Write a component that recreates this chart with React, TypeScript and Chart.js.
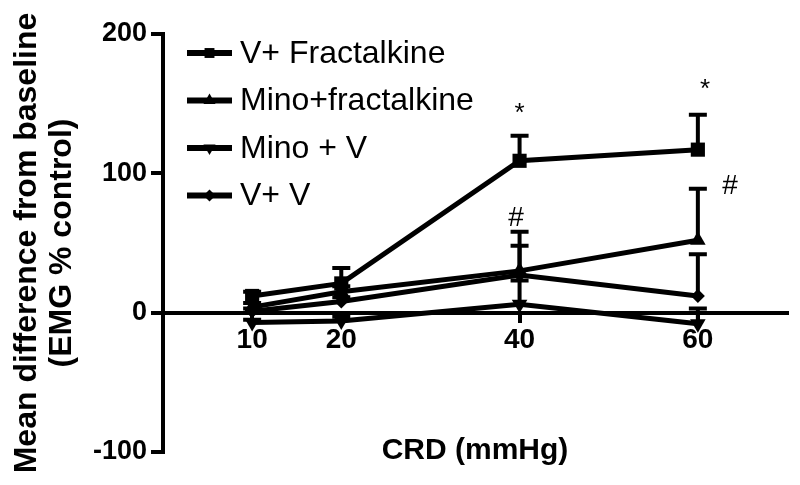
import React, { useEffect, useRef } from 'react';
import { Chart, registerables } from 'chart.js';

Chart.register(...registerables);

// ---- data ----
const pressures = [10, 20, 40, 60];
const xTickValues = [10, 20, 40, 60];
const yTickValues = [-100, 0, 100, 200];
const seriesLabels = ['V+ Fractalkine', 'Mino+fractalkine', 'Mino + V', 'V+ V'];

const vFractalkine = [12, 21, 109, 117];
const vFractalkineErr = [3, 11, 18, 25];
const minoFractalkine = [4, 15, 30, 52];
const minoFractalkineErr = [3, 4, 28, 37];
const minoV = [-7, -6, 6, -8];
const minoVErr = [2, 3, 17, 11];
const vV = [1, 8, 27, 12];
const vVErr = [2, 3, 21, 30];

const annotationX = [40, 60.8, 39.6, 63.6];
const annotationY = [143, 160, 68, 91];
const annotationText = ['*', '*', '#', '#'];

const FONT = "'Liberation Sans', Arial, Helvetica, sans-serif";

type Marker = { style: string; radius: number; rotation: number; legendRadius: number };
const markers: Marker[] = [
  { style: 'rect', radius: 10, rotation: 0, legendRadius: 7 },
  { style: 'triangle', radius: 9, rotation: 0, legendRadius: 7 },
  { style: 'triangle', radius: 9, rotation: 180, legendRadius: 7 },
  { style: 'rectRot', radius: 7, rotation: 0, legendRadius: 6 },
];

function drawMarker(ctx: CanvasRenderingContext2D, m: Marker, x: number, y: number, r: number) {
  ctx.beginPath();
  if (m.style === 'rect') {
    const s = Math.SQRT1_2 * r;
    ctx.rect(x - s, y - s, 2 * s, 2 * s);
  } else if (m.style === 'rectRot') {
    ctx.moveTo(x, y - r);
    ctx.lineTo(x + r, y);
    ctx.lineTo(x, y + r);
    ctx.lineTo(x - r, y);
    ctx.closePath();
  } else {
    let rad = (m.rotation * Math.PI) / 180;
    ctx.moveTo(x + Math.sin(rad) * r, y - Math.cos(rad) * r);
    rad += (2 * Math.PI) / 3;
    ctx.lineTo(x + Math.sin(rad) * r, y - Math.cos(rad) * r);
    rad += (2 * Math.PI) / 3;
    ctx.lineTo(x + Math.sin(rad) * r, y - Math.cos(rad) * r);
    ctx.closePath();
  }
  ctx.fill();
}

const customPlugin = {
  id: 'customDecor',
  beforeDatasetsDraw(chart: any) {
    const ctx: CanvasRenderingContext2D = chart.ctx;
    const xs = chart.scales.x;
    const ys = chart.scales.y;
    ctx.save();
    ctx.strokeStyle = '#000';
    ctx.lineWidth = 4;
    ctx.lineCap = 'butt';
    chart.data.datasets.forEach((ds: any) => {
      const errs: number[] = ds.errors || [];
      ds.data.forEach((pt: any, i: number) => {
        const e = errs[i];
        if (!e) return;
        const px = xs.getPixelForValue(pt.x);
        const y0 = ys.getPixelForValue(pt.y);
        const y1 = ys.getPixelForValue(pt.y + e);
        ctx.beginPath();
        ctx.moveTo(px, y0);
        ctx.lineTo(px, y1);
        ctx.moveTo(px - 9, y1);
        ctx.lineTo(px + 9, y1);
        ctx.stroke();
      });
    });
    ctx.restore();
  },
  afterDraw(chart: any) {
    const ctx: CanvasRenderingContext2D = chart.ctx;
    const area = chart.chartArea;
    const xs = chart.scales.x;
    const ys = chart.scales.y;
    ctx.save();
    // legend
    ctx.fillStyle = '#000';
    ctx.strokeStyle = '#000';
    ctx.font = `32px ${FONT}`;
    ctx.textBaseline = 'middle';
    ctx.textAlign = 'left';
    chart.data.datasets.forEach((ds: any, i: number) => {
      const y = area.top + 19 + i * 47.5;
      const x0 = area.left + 24;
      ctx.lineWidth = 6;
      ctx.beginPath();
      ctx.moveTo(x0, y);
      ctx.lineTo(x0 + 45, y);
      ctx.stroke();
      drawMarker(ctx, markers[i], x0 + 22.5, y, markers[i].legendRadius);
      ctx.fillText(ds.label, x0 + 53, y + 1);
    });
    // significance marks
    annotationText.forEach((t, i) => {
      ctx.font = t === '*' ? `26px ${FONT}` : `28px ${FONT}`;
      ctx.textAlign = 'center';
      ctx.fillText(t, xs.getPixelForValue(annotationX[i]), ys.getPixelForValue(annotationY[i]));
    });
    ctx.restore();
  },
};

export default function App() {
  const ref = useRef<HTMLCanvasElement | null>(null);
  useEffect(() => {
    document.body.style.margin = '0';
    if (!ref.current) return;
    const series = [vFractalkine, minoFractalkine, minoV, vV];
    const errors = [vFractalkineErr, minoFractalkineErr, minoVErr, vVErr];
    const chart = new Chart(ref.current, {
      type: 'line',
      data: {
        datasets: series.map((vals, i) => ({
          label: seriesLabels[i],
          data: pressures.map((p, j) => ({ x: p, y: vals[j] })),
          errors: errors[i],
          borderColor: '#000',
          backgroundColor: '#000',
          borderWidth: 5,
          pointStyle: markers[i].style,
          pointRadius: markers[i].radius,
          pointRotation: markers[i].rotation,
          pointBackgroundColor: '#000',
          pointBorderColor: '#000',
          pointBorderWidth: 0,
          tension: 0,
          fill: false,
        })) as any,
      },
      options: {
        animation: false,
        responsive: false,
        layout: { padding: { top: 34, right: 13, bottom: 33, left: 0 } },
        plugins: { legend: { display: false }, tooltip: { enabled: false } },
        scales: {
          x: {
            type: 'linear',
            position: { y: 0 } as any,
            min: 0,
            max: 70,
            afterBuildTicks: (scale: any) => {
              scale.ticks = xTickValues.map((v) => ({ value: v }));
            },
            ticks: {
              color: '#000',
              font: { family: FONT, size: 28, weight: 'bold' },
              padding: 3,
              maxRotation: 0,
              autoSkip: false,
              callback: (v: any) => String(v),
            },
            grid: {
              display: true,
              drawOnChartArea: false,
              drawTicks: true,
              tickLength: 8,
              color: '#000',
              lineWidth: 4,
            },
            border: { display: true, color: '#000', width: 4 },
            title: {
              display: true,
              text: 'CRD (mmHg)',
              color: '#000',
              font: { family: FONT, size: 30, weight: 'bold' },
              padding: { top: 72, bottom: 0 },
            },
          },
          y: {
            type: 'linear',
            position: 'left',
            min: -100,
            max: 200,
            afterBuildTicks: (scale: any) => {
              scale.ticks = yTickValues.map((v) => ({ value: v }));
            },
            afterFit: (scale: any) => {
              scale.width = 163;
            },
            ticks: {
              color: '#000',
              font: { family: FONT, size: 27, weight: 'bold' },
              padding: 4,
              callback: (v: any) => String(v),
            },
            grid: {
              display: true,
              drawOnChartArea: false,
              drawTicks: true,
              tickLength: 12,
              color: '#000',
              lineWidth: 4,
            },
            border: { display: true, color: '#000', width: 4 },
            title: {
              display: true,
              text: ['Mean difference from baseline', '(EMG % control)'],
              color: '#000',
              font: { family: FONT, size: 32, weight: 'bold', lineHeight: 1.09 },
              padding: { top: 10, bottom: 0 },
            },
          },
        },
      },
      plugins: [customPlugin],
    });
    return () => chart.destroy();
  }, []);
  return (
    <div style={{ width: 800, height: 485 }}>
      <canvas ref={ref} width={800} height={485} />
    </div>
  );
}
